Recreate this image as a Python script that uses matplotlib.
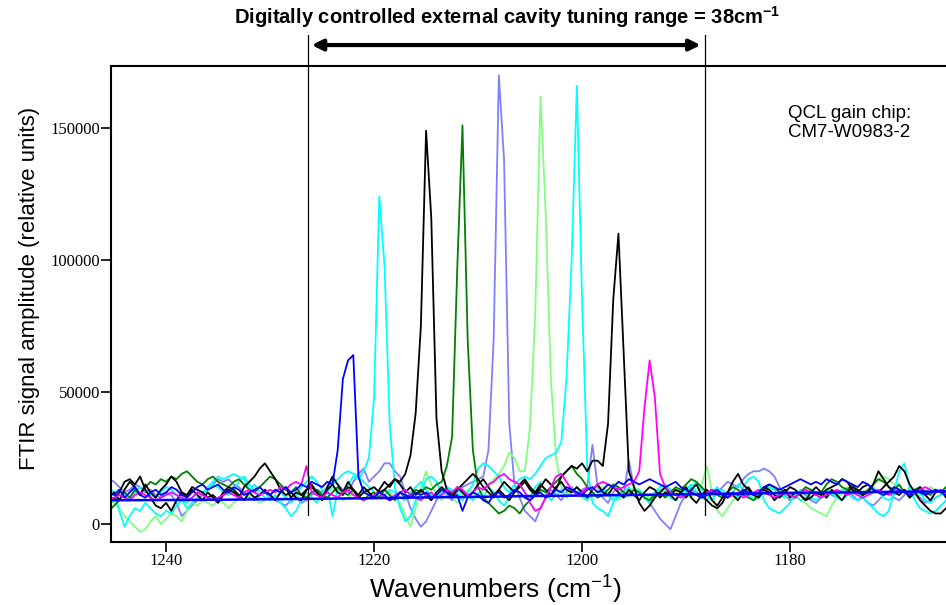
import matplotlib
matplotlib.use("Agg")
import matplotlib.pyplot as plt
import numpy as np

plt.rcParams["mathtext.default"] = "regular"

# --- sampling grid (cm-1), 0.5 cm-1 step, high to low ---
WN = np.linspace(1245.5, 1164.5, 163)

# --- FTIR traces, values in thousands (relative units) ---
BLUE = [12, 11, 13, 10, 12, 14, 11, 10, 12, 13,
        11, 12, 14, 13, 11, 10, 12, 14, 15, 13,
        14, 15, 13, 12, 14, 13, 11, 12, 13, 14,
        12, 11, 13, 12, 14, 12, 13, 15, 14, 16,
        15, 14, 16, 15, 28, 55, 62, 64, 18, 12,
        11, 10, 12, 11, 9, 10, 12, 11, 10, 12,
        11, 12, 10, 11, 13, 12, 10, 11, 5, 10,
        12, 11, 9, 8, 11, 12, 10, 11, 13, 12,
        10, 9, 11, 12, 10, 11, 13, 12, 14, 13,
        12, 11, 13, 14, 12, 13, 15, 14, 16, 15,
        17, 16, 15, 16, 17, 16, 15, 14, 15, 16,
        14, 13, 12, 11, 10, 11, 12, 13, 11, 10,
        12, 11, 13, 12, 11, 12, 14, 15, 14, 13,
        14, 15, 16, 17, 16, 15, 16, 15, 17, 16,
        15, 17, 16, 15, 14, 16, 15, 13, 12, 11,
        12, 14, 13, 12, 11, 13, 12, 11, 12, 13,
        12, 11, 12]

CYAN_1 = [14, 12, 5, -1, 3, 6, 5, 8, 6, 4,
          3, 5, 4, 7, 9, 6, 8, 10, 12, 14,
          16, 18, 17, 18, 19, 18, 17, 13, 15, 12,
          10, 9, 11, 8, 6, 3, 5, 9, 12, 10,
          8, 11, 14, 3, 13, 12, 15, 18, 17, 20,
          25, 48, 124, 98, 38, 14, 6, 1, 3, 9,
          12, 17, 18, 16, 11, 14, 12, 10, 13, 11,
          9, 12, 10, 14, 12, 9, 7, 10, 13, 15,
          12, 10, 14, 16, 12, 9, 11, 13, 10, 12,
          14, 11, 9, 12, 10, 13, 11, 9, 10, 12,
          14, 11, 13, 10, 8, 11, 13, 12, 10, 9,
          11, 13, 15, 12, 10, 9, 12, 14, 11, 10,
          12, 15, 13, 11, 9, 10, 12, 14, 13, 11,
          10, 12, 11, 9, 10, 13, 12, 11, 10, 12,
          11, 13, 12, 10, 9, 11, 12, 14, 12, 10,
          9, 11, 13, 12, 10, 11, 12, 9, 8, 10,
          11, 12, 10]

BLACK_1 = [10, 12, 9, 13, 16, 14, 11, 15, 12, 10,
           13, 15, 18, 16, 12, 11, 14, 13, 12, 10,
           11, 9, 12, 14, 13, 11, 9, 12, 10, 11,
           13, 11, 9, 12, 14, 10, 12, 11, 13, 14,
           12, 10, 13, 15, 12, 11, 14, 13, 10, 12,
           13, 14, 12, 13, 15, 17, 16, 19, 26, 42,
           75, 149, 116, 40, 20, 13, 11, 14, 12, 10,
           12, 15, 17, 14, 11, 13, 16, 14, 12, 15,
           17, 14, 12, 15, 13, 11, 14, 16, 13, 12,
           14, 12, 10, 13, 15, 12, 11, 14, 12, 10,
           13, 11, 9, 12, 14, 13, 10, 12, 11, 9,
           12, 14, 10, 8, 11, 13, 9, 7, 10, 12,
           11, 9, 12, 14, 11, 10, 13, 12, 9, 11,
           13, 10, 12, 11, 9, 12, 14, 12, 10, 13,
           11, 9, 12, 14, 13, 11, 12, 15, 20, 17,
           14, 12, 11, 13, 10, 12, 14, 11, 9, 12,
           13, 10, 11]

GREEN = [5, 7, 9, 12, 10, 13, 11, 14, 16, 15,
         17, 16, 18, 17, 19, 20, 18, 16, 15, 17,
         18, 16, 15, 14, 16, 17, 15, 13, 12, 14,
         16, 18, 17, 15, 13, 12, 14, 11, 10, 12,
         13, 11, 10, 12, 14, 12, 11, 13, 10, 9,
         11, 12, 10, 13, 11, 9, 12, 10, 11, 13,
         12, 14, 13, 15, 16, 22, 33, 97, 151, 70,
         28, 14, 10, 8, 6, 4, 5, 7, 6, 4,
         7, 9, 11, 13, 12, 14, 16, 18, 20, 22,
         19, 17, 14, 12, 10, 11, 13, 15, 14, 12,
         11, 13, 12, 10, 9, 11, 12, 10, 12, 14,
         13, 15, 17, 16, 14, 12, 13, 11, 10, 12,
         14, 13, 11, 10, 9, 11, 13, 15, 14, 12,
         13, 11, 10, 12, 14, 13, 11, 12, 15, 17,
         16, 14, 13, 15, 12, 11, 13, 15, 17, 16,
         14, 13, 15, 12, 11, 13, 14, 12, 11, 13,
         12, 14, 13]

SLATE = [17, 16, 14, 12, 13, 15, 14, 12, 13, 11,
         10, 12, 11, 8, 3, 5, 7, 9, 11, 13,
         15, 17, 16, 17, 15, 14, 12, 10, 9, 11,
         12, 10, 9, 8, 7, 9, 10, 8, 9, 11,
         13, 12, 14, 17, 15, 13, 12, 16, 19, 21,
         16, 18, 20, 23, 23, 20, 18, 12, 6, 2,
         -1, 1, 5, 9, 12, 11, 9, 12, 14, 15,
         16, 17, 18, 28, 70, 170, 138, 38, 15, 10,
         5, 3, 1, 6, 10, 13, 11, 9, 12, 14,
         12, 13, 14, 30, 14, 10, 8, 12, 14, 11,
         24, 14, 12, 10, 8, 5, 2, 0, -2, 3,
         8, 11, 13, 12, 10, 11, 13, 12, 14, 16,
         15, 14, 17, 19, 20, 20, 21, 20, 18, 14,
         11, 9, 10, 12, 11, 9, 8, 10, 12, 11,
         10, 12, 13, 11, 9, 10, 8, 7, 9, 11,
         12, 10, 9, 11, 13, 12, 10, 8, 9, 10,
         11, 12, 10]

LIGHT_GREEN = [10, 8, 6, 3, 1, -1, -3, -2, 1, 3,
               0, 2, 4, 3, 1, 5, 8, 7, 9, 8,
               7, 9, 8, 6, 8, 10, 9, 11, 10, 8,
               9, 11, 10, 8, 10, 12, 11, 9, 10, 12,
               11, 10, 12, 14, 11, 9, 10, 12, 11, 13,
               12, 10, 11, 13, 12, 10, 8, 3, -1, 6,
               14, 20, 15, 11, 9, 12, 10, 8, 11, 13,
               12, 10, 13, 15, 17, 19, 22, 27, 25, 20,
               20, 37, 80, 162, 118, 55, 25, 14, 11, 13,
               12, 10, 9, 11, 13, 14, 12, 10, 9, 11,
               12, 14, 13, 11, 10, 12, 14, 13, 11, 12,
               13, 11, 10, 12, 15, 22, 12, 5, 3, 6,
               9, 11, 13, 12, 10, 11, 12, 14, 13, 11,
               10, 12, 11, 9, 8, 6, 5, 4, 3, 7,
               10, 12, 14, 13, 11, 12, 13, 15, 17, 18,
               17, 15, 13, 12, 14, 13, 11, 12, 14, 13,
               12, 14, 13]

CYAN_2 = [10, 12, 13, 11, 9, 12, 14, 13, 11, 10,
          12, 14, 13, 11, 9, 8, 10, 12, 11, 13,
          15, 14, 12, 11, 13, 16, 18, 15, 12, 10,
          9, 11, 13, 12, 10, 8, 11, 14, 16, 18,
          16, 13, 12, 15, 17, 19, 20, 19, 18, 16,
          14, 12, 10, 11, 13, 12, 10, 9, 12, 14,
          16, 13, 11, 10, 12, 14, 13, 11, 9, 12,
          15, 21, 23, 22, 20, 18, 14, 12, 15, 17,
          18, 17, 19, 22, 25, 26, 27, 31, 55, 100,
          166, 85, 22, 8, 6, 5, 3, 8, 12, 10,
          11, 13, 12, 10, 9, 12, 14, 15, 13, 11,
          10, 12, 14, 16, 13, 11, 9, 12, 13, 11,
          12, 10, 14, 17, 18, 16, 9, 6, 5, 4,
          6, 8, 11, 13, 12, 10, 9, 11, 13, 12,
          10, 9, 11, 13, 12, 10, 8, 6, 4, 3,
          5, 12, 20, 23, 14, 9, 6, 5, 4, 5,
          7, 9, 10]

BLACK_2 = [11, 9, 12, 16, 17, 15, 18, 13, 10, 7,
           6, 8, 5, 9, 12, 10, 13, 11, 9, 12,
           10, 8, 11, 13, 12, 10, 14, 16, 18, 21,
           23, 20, 17, 13, 11, 12, 10, 9, 13, 15,
           12, 9, 14, 18, 15, 12, 16, 13, 11, 14,
           12, 10, 13, 16, 14, 17, 15, 12, 14, 11,
           13, 11, 9, 12, 14, 12, 10, 13, 15, 17,
           19, 17, 14, 12, 10, 13, 11, 9, 12, 14,
           16, 13, 11, 14, 17, 15, 13, 18, 20, 22,
           21, 23, 20, 24, 24, 22, 38, 85, 110, 65,
           20, 14, 8, 5, 7, 10, 12, 14, 11, 13,
           12, 10, 13, 15, 11, 9, 7, 6, 8, 12,
           16, 19, 15, 13, 11, 12, 14, 13, 11, 10,
           12, 14, 13, 11, 9, 10, 12, 11, 13, 14,
           15, 17, 16, 13, 12, 14, 15, 13, 12, 14,
           16, 18, 22, 20, 15, 12, 9, 7, 5, 4,
           4, 6, 8]

MAGENTA = [9, 10, 11, 10, 9, 11, 12, 11, 10, 9,
           10, 11, 12, 11, 10, 9, 10, 12, 11, 10,
           9, 10, 11, 12, 11, 10, 12, 13, 12, 11,
           12, 13, 12, 14, 13, 15, 16, 15, 22, 12,
           11, 10, 12, 11, 10, 12, 13, 11, 10, 9,
           10, 11, 12, 10, 9, 11, 12, 13, 11, 10,
           9, 11, 12, 10, 11, 13, 12, 14, 13, 11,
           12, 14, 13, 15, 16, 18, 19, 17, 16, 15,
           12, 8, 5, 6, 10, 14, 18, 19, 16, 13,
           11, 12, 14, 13, 15, 16, 15, 14, 13, 14,
           15, 16, 20, 44, 62, 48, 19, 14, 12, 11,
           10, 11, 12, 11, 10, 12, 13, 12, 11, 10,
           11, 12, 10, 11, 12, 13, 12, 11, 10, 11,
           12, 11, 10, 12, 13, 12, 11, 10, 11, 12,
           13, 12, 11, 12, 11, 10, 11, 12, 13, 12,
           11, 12, 13, 12, 11, 12, 13, 14, 13, 12,
           13, 12, 13]

# nearly flat reference trace
FLAT_WN = [1246, 1240, 1235, 1230, 1225, 1220, 1215, 1210, 1205,
           1200, 1195, 1190, 1185, 1180, 1175, 1170, 1164]
FLAT = [9.0, 9.1, 9.2, 9.4, 9.6, 9.8, 10.1, 10.3, 10.6,
        10.8, 11.0, 11.3, 11.5, 11.8, 12.0, 12.2, 12.4]

RANGE_EDGES = [1226.4, 1188.2]   # tuning range markers (38 cm-1)

TRACES = [
    (SLATE, "#8080ff"),
    (LIGHT_GREEN, "#80ff80"),
    (CYAN_1, "#00ffff"),
    (CYAN_2, "#00ffff"),
    (GREEN, "#008000"),
    (BLACK_1, "#000000"),
    (BLACK_2, "#000000"),
    (MAGENTA, "#ff00ff"),
    (BLUE, "#0000ff"),
]

fig = plt.figure(figsize=(9.46, 6.05), dpi=100)
ax = fig.add_axes([111 / 946, 63 / 605, 835 / 946, 476 / 605])

for vals, col in TRACES:
    ax.plot(WN, np.array(vals) * 1000, color=col, lw=1.3)
ax.plot(FLAT_WN, np.array(FLAT) * 1000, color="#0000ff", lw=1.8)

ax.set_xlim(1245.3, 1165.0)
ax.set_ylim(-6800, 173500)

ax.set_xticks([1240, 1220, 1200, 1180])
ax.set_yticks([0, 50000, 100000, 150000])
ax.set_yticklabels(["0", "50000", "100000", "150000"])
ax.tick_params(direction="out", length=7, width=1.2, pad=1, labelsize=12)
for lab in ax.get_xticklabels() + ax.get_yticklabels():
    lab.set_fontfamily("Liberation Serif")

ax.spines["right"].set_visible(False)
for s in ("left", "bottom", "top"):
    ax.spines[s].set_linewidth(1.5)

# tuning range markers and arrow
trans = ax.get_xaxis_transform()
for x in RANGE_EDGES:
    ax.plot([x, x], [0.057, 1.065], color="black", lw=0.9,
            transform=trans, clip_on=False)
ax.annotate("", xy=(RANGE_EDGES[1] + 0.4, 1.044), xytext=(RANGE_EDGES[0] - 0.4, 1.044),
            xycoords=trans, textcoords=trans,
            arrowprops=dict(arrowstyle="<|-|>", color="black", lw=3,
                            mutation_scale=16, shrinkA=0, shrinkB=0))

sans = ["Liberation Sans", "DejaVu Sans"]
fig.text(507 / 946, 1 - 17 / 605,
         "Digitally controlled external cavity tuning range = 38cm$^{-1}$",
         ha="center", va="center", fontsize=14.5, fontweight="bold",
         family=["Liberation Sans Narrow", "Liberation Sans"])

fig.text(788 / 946, 1 - 123 / 605, "QCL gain chip:\nCM7-W0983-2",
         ha="left", va="center", fontsize=13.5, family=sans, linespacing=1.1)

fig.text(495 / 946, 1 - 590 / 605, "Wavenumbers (cm$^{-1}$)",
         ha="center", va="center", fontsize=19, family=sans)
fig.text(30 / 946, 1 - 288 / 605, "FTIR signal amplitude (relative units)",
         ha="center", va="center", rotation=90, fontsize=16, family=sans)

fig.savefig("out.png", dpi=100)
